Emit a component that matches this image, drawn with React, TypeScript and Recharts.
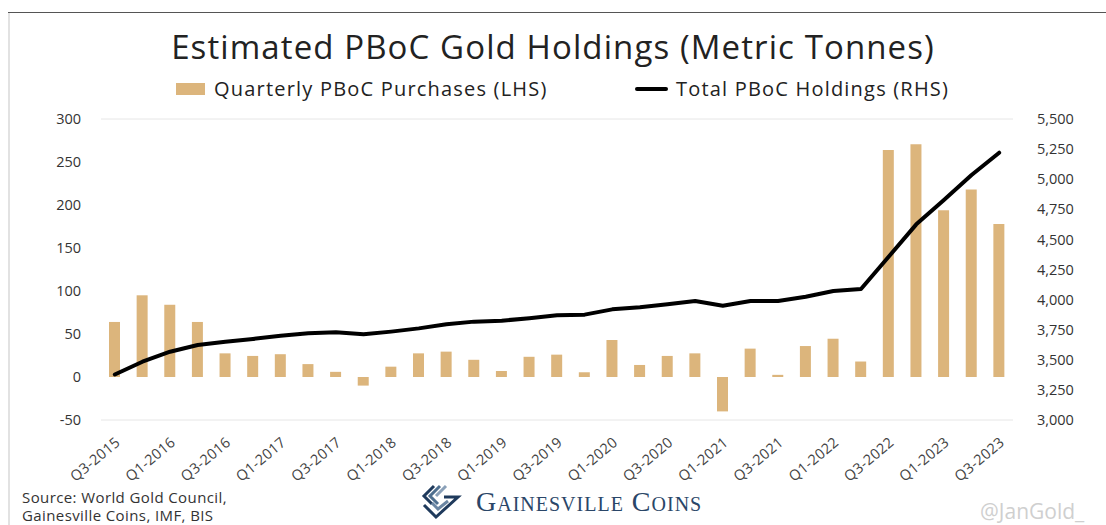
import { Bar, CartesianGrid, ComposedChart, Line, XAxis, YAxis } from 'recharts';

const quarters = [
  'Q3-2015', 'Q4-2015',
  'Q1-2016', 'Q2-2016', 'Q3-2016', 'Q4-2016',
  'Q1-2017', 'Q2-2017', 'Q3-2017', 'Q4-2017',
  'Q1-2018', 'Q2-2018', 'Q3-2018', 'Q4-2018',
  'Q1-2019', 'Q2-2019', 'Q3-2019', 'Q4-2019',
  'Q1-2020', 'Q2-2020', 'Q3-2020', 'Q4-2020',
  'Q1-2021', 'Q2-2021', 'Q3-2021', 'Q4-2021',
  'Q1-2022', 'Q2-2022', 'Q3-2022', 'Q4-2022',
  'Q1-2023', 'Q2-2023', 'Q3-2023',
];

// quarterly purchases, tonnes (LHS)
const purchases = [
  64, 95,
  84, 64, 27.5, 24.5,
  26.5, 15, 6, -10,
  12, 27.5, 29.5, 20,
  7, 23.5, 26, 5.5,
  43, 14, 24.5, 27.5,
  -40, 33, 2.5, 36,
  44.5, 18, 264, 270.5,
  194, 218, 178,
];

// total holdings, tonnes (RHS)
const holdings = [
  3378, 3484,
  3567, 3623, 3650, 3673,
  3700, 3720, 3728, 3712,
  3734, 3761, 3795, 3817,
  3825, 3845, 3870, 3875,
  3919, 3936, 3961, 3988,
  3949, 3988, 3988, 4024,
  4071, 4088, 4356, 4625,
  4827, 5035, 5220,
];

const leftTicks = [-50, 0, 50, 100, 150, 200, 250, 300];
const rightTicks = [3000, 3250, 3500, 3750, 4000, 4250, 4500, 4750, 5000, 5250, 5500];

const data = quarters.map((q, i) => ({ q, purchases: purchases[i], holdings: holdings[i] }));

const GOLD = '#DCB57C';
const FONT = '"Open Sans", Lato, sans-serif';

function QuarterTick({ x, y, payload }: any) {
  return (
    <g transform={`translate(${x + 3},${y + 12}) rotate(-40)`}>
      <text x={0} y={0} dy="0.35em" textAnchor="end" fontSize={14.5} letterSpacing={0.3} fill="#444" fontFamily={FONT}>
        {payload.value}
      </text>
    </g>
  );
}

function Logo() {
  return (
    <svg width={44} height={38} viewBox="0 0 44 38">
      <polyline points="14,3 4,13 12,21" fill="none" stroke="#1f3a5c" strokeWidth={3} />
      <polyline points="20,3 10,13 18,21" fill="none" stroke="#4f6f8f" strokeWidth={3} />
      <polyline points="26,3 16,13" fill="none" stroke="#8aa0b8" strokeWidth={3} />
      <polyline points="4,22 16,34 38,14 24,14" fill="none" stroke="#1f3a5c" strokeWidth={3} />
      <polyline points="12,20 18,26 28,18" fill="none" stroke="#6b86a3" strokeWidth={3} />
    </svg>
  );
}

export default function App() {
  return (
    <div
      style={{
        position: 'absolute',
        left: 0,
        top: 0,
        width: 1106,
        height: 525,
        background: '#fff',
        fontFamily: FONT,
        overflow: 'hidden',
      }}
    >
      <div style={{ position: 'absolute', left: 8, top: 12, right: 0, height: 1, background: '#555' }} />
      <div style={{ position: 'absolute', left: 8, top: 13, bottom: 0, width: 2, background: '#e2e2e2' }} />

      <div
        style={{
          position: 'absolute',
          top: 24,
          left: 0,
          width: 1106,
          textAlign: 'center',
          fontSize: 33,
          letterSpacing: 1.1,
          color: '#222',
        }}
      >
        Estimated PBoC Gold Holdings (Metric Tonnes)
      </div>

      <div style={{ position: 'absolute', top: 75, left: 176, display: 'flex', alignItems: 'center', fontSize: 20, letterSpacing: 1.2, color: '#222' }}>
        <span style={{ display: 'inline-block', width: 29, height: 12, background: GOLD, marginRight: 9 }} />
        Quarterly PBoC Purchases (LHS)
      </div>
      <div style={{ position: 'absolute', top: 75, left: 635, display: 'flex', alignItems: 'center', fontSize: 20, letterSpacing: 1.2, color: '#222' }}>
        <span style={{ display: 'inline-block', width: 33, height: 4, borderRadius: 2, background: '#000', marginRight: 8 }} />
        Total PBoC Holdings (RHS)
      </div>

      <div style={{ position: 'absolute', left: 0, top: 0 }}>
        <ComposedChart
          width={1106}
          height={525}
          data={data}
          margin={{ top: 119, right: 0, bottom: 0, left: 0 }}
          barCategoryGap={0}
        >
          <CartesianGrid vertical={false} stroke="#e6e6e6" />
          <XAxis
            dataKey="q"
            interval={1}
            tick={<QuarterTick />}
            tickLine={false}
            axisLine={false}
            height={105}
          />
          <YAxis
            yAxisId="left"
            width={101}
            domain={[-50, 300]}
            ticks={leftTicks}
            tickLine={false}
            axisLine={false}
            tickMargin={14}
            tick={{ fontSize: 14.5, fill: '#333', fontFamily: FONT }}
          />
          <YAxis
            yAxisId="right"
            orientation="right"
            width={93}
            domain={[3000, 5500]}
            ticks={rightTicks}
            tickLine={false}
            axisLine={false}
            tickMargin={18}
            tickFormatter={(v: number) => v.toLocaleString('en-US')}
            tick={{ fontSize: 14.5, fill: '#333', fontFamily: FONT, textAnchor: 'start' }}
          />
          <Bar yAxisId="left" dataKey="purchases" fill={GOLD} barSize={11} isAnimationActive={false} />
          <Line
            yAxisId="right"
            dataKey="holdings"
            type="linear"
            stroke="#000"
            strokeWidth={4}
            dot={false}
            strokeLinejoin="round"
            strokeLinecap="round"
            isAnimationActive={false}
          />
        </ComposedChart>
      </div>

      <div style={{ position: 'absolute', left: 22, top: 488, fontSize: 15, letterSpacing: 0.4, lineHeight: '18px', color: '#333' }}>
        Source: World Gold Council,
        <br />
        Gainesville Coins, IMF, BIS
      </div>

      <div style={{ position: 'absolute', left: 420, top: 483, display: 'flex', alignItems: 'center' }}>
        <Logo />
        <span
          style={{
            marginLeft: 12,
            fontFamily: '"Liberation Serif", serif',
            fontVariant: 'small-caps',
            fontSize: 28,
            letterSpacing: 1,
            color: '#2a4668',
          }}
        >
          Gainesville Coins
        </span>
      </div>

      <div style={{ position: 'absolute', left: 980, top: 497, fontSize: 21, color: '#cfcfcf' }}>@JanGold_</div>
    </div>
  );
}
